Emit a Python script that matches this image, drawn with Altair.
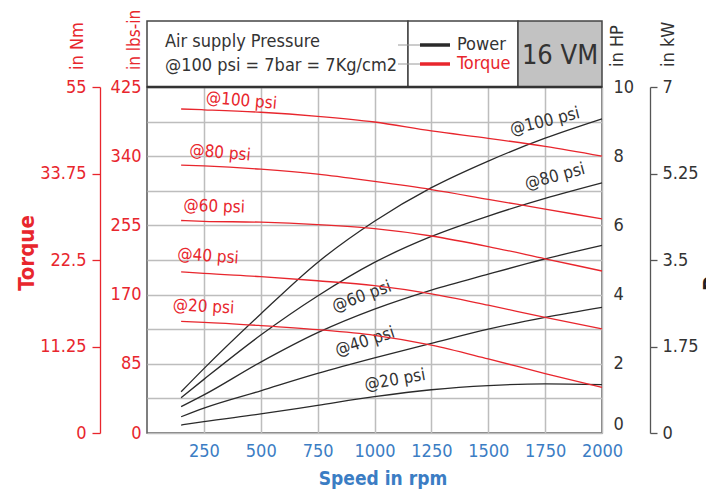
import altair as alt
import pandas as pd

# Speed points (rpm) shared by every curve
rpm = [150, 250, 500, 750, 1000, 1250, 1500, 1750, 2000]

# Output power in HP at each supply pressure
power_100 = [1.19, 1.86, 3.44, 4.93, 6.12, 7.09, 7.86, 8.52, 9.08]
power_80 = [1.02, 1.55, 2.83, 3.96, 4.93, 5.68, 6.27, 6.78, 7.23]
power_60 = [0.76, 1.10, 2.05, 2.90, 3.58, 4.13, 4.59, 5.03, 5.42]
power_40 = [0.47, 0.72, 1.22, 1.72, 2.17, 2.59, 3.00, 3.34, 3.63]
power_20 = [0.23, 0.33, 0.55, 0.80, 1.05, 1.25, 1.37, 1.42, 1.40]

# Torque in lbs-in at each supply pressure
torque_100 = [398, 397, 394, 389, 382, 371, 362, 352, 340]
torque_80 = [329, 328, 324, 318, 309, 299, 287, 275, 263]
torque_60 = [261, 260, 259, 256, 251, 242, 229, 214, 199]
torque_40 = [198, 196, 192, 187, 181, 171, 157, 142, 128]
torque_20 = [137, 136, 132, 127, 120, 108, 91, 73, 56]

pressures = ["@100 psi", "@80 psi", "@60 psi", "@40 psi", "@20 psi"]
power_series = [power_100, power_80, power_60, power_40, power_20]
torque_series = [torque_100, torque_80, torque_60, torque_40, torque_20]

# Curve labels: (rpm, value, angle)
torque_label_rpm = [415, 321, 295, 268, 248]
torque_label_val = [408, 344, 278, 217, 155]
torque_label_ang = [5, 5, 2, 4, 3]
power_label_rpm = [1749, 1793, 944, 958, 1090]
power_label_val = [9.0, 7.41, 3.94, 2.64, 1.53]
power_label_ang = [346, 345, 340, 342, 350]

x_ticks = [250, 500, 750, 1000, 1250, 1500, 1750, 2000]
lbs_ticks = [0, 85, 170, 255, 340, 425]
hp_ticks = list(range(0, 11))
nm_ticks = [0, 11.25, 22.5, 33.75, 45]
kw_ticks = [0, 1.75, 3.5, 5.25, 7]

FONT = "Liberation Sans Narrow, Arial Narrow, DejaVu Sans Condensed, sans-serif"
RED = "#e8262d"
DARK = "#2a2a2a"
TXT = "#333333"
BLUE = "#3b7dc4"
GRID = "#bdbdbd"
W, H = 455, 346
TICK_FS = 18

power_df = pd.DataFrame(
    [{"rpm": r, "hp": v, "p": p} for p, s in zip(pressures, power_series) for r, v in zip(rpm, s)]
)
torque_df = pd.DataFrame(
    [{"rpm": r, "lbs": v, "p": p} for p, s in zip(pressures, torque_series) for r, v in zip(rpm, s)]
)
tlab_df = pd.DataFrame({"rpm": torque_label_rpm, "lbs": torque_label_val,
                        "ang": torque_label_ang, "txt": pressures})
plab_df = pd.DataFrame({"rpm": power_label_rpm, "hp": power_label_val,
                        "ang": power_label_ang, "txt": pressures})

x_scale = alt.Scale(domain=[0, 2000], nice=False, zero=False)
x_axis = alt.Axis(values=x_ticks, format="d", grid=True, gridColor=GRID, gridWidth=1.5, ticks=False,
                  domain=False, labelColor=BLUE, labelFontSize=TICK_FS, labelPadding=9,
                  labelOverlap=False, labelFlush=False, labelFont=FONT, title=None)
x_enc = alt.X("rpm:Q", scale=x_scale, axis=x_axis)

lbs_scale = alt.Scale(domain=[0, 425], nice=False)
lbs_axis = alt.Axis(orient="left", values=lbs_ticks, grid=False, ticks=False, domain=False,
                    labelColor=RED, labelFontSize=TICK_FS, labelPadding=6, labelFont=FONT, title=None)
hp_scale = alt.Scale(domain=[0, 10], nice=False)
hp_axis = alt.Axis(orient="right", values=hp_ticks, grid=True, gridColor=GRID, gridWidth=1.5,
                   ticks=False, domain=False, labelColor=TXT, labelFontSize=TICK_FS, labelPadding=11,
                   labelFont=FONT, labelExpr="datum.value % 2 == 0 ? datum.label : ''",
                   labelBaseline={"condition": {"test": "datum.value == 0", "value": "bottom"},
                                  "value": "middle"},
                   title=None)

# Torque curves and their labels on the lbs-in scale (left)
torque_lines = alt.Chart(torque_df).mark_line(color=RED, strokeWidth=1.3, interpolate="monotone").encode(
    x=x_enc,
    y=alt.Y("lbs:Q", scale=lbs_scale, axis=lbs_axis),
    detail="p:N",
)
torque_text = alt.Chart(tlab_df).mark_text(color=RED, fontSize=17, font=FONT, align="center",
                                           baseline="middle").encode(
    x=x_enc,
    y=alt.Y("lbs:Q", scale=lbs_scale, axis=lbs_axis),
    text="txt:N",
    angle=alt.Angle("ang:Q", scale=None),
)
torque_layer = alt.layer(torque_lines, torque_text)

# Power curves and their labels on the HP scale (right)
power_lines = alt.Chart(power_df).mark_line(color=DARK, strokeWidth=1.3, interpolate="monotone").encode(
    x=x_enc,
    y=alt.Y("hp:Q", scale=hp_scale, axis=hp_axis),
    detail="p:N",
)
power_text = alt.Chart(plab_df).mark_text(color=TXT, fontSize=17, font=FONT, align="center",
                                          baseline="middle").encode(
    x=x_enc,
    y=alt.Y("hp:Q", scale=hp_scale, axis=hp_axis),
    text="txt:N",
    angle=alt.Angle("ang:Q", scale=None),
)
power_layer = alt.layer(power_lines, power_text)

# Secondary unit axes: Nm on the far left, kW on the far right
nm_axis = alt.Chart(pd.DataFrame({"nm": [0, 45]})).mark_point(opacity=0).encode(
    y=alt.Y("nm:Q", scale=alt.Scale(domain=[0, 45], nice=False),
            axis=alt.Axis(orient="left", offset=47, values=nm_ticks, grid=False, domainColor=RED,
                          domainWidth=1.3, tickColor=RED, tickSize=8, tickWidth=1.3, labelColor=RED,
                          labelFontSize=TICK_FS, labelPadding=6, labelFont=FONT,
                          labelExpr="datum.value == 45 ? '55' : format(datum.value, '~g')", title=None)),
)
kw_axis = alt.Chart(pd.DataFrame({"kw": [0, 7]})).mark_point(opacity=0).encode(
    y=alt.Y("kw:Q", scale=alt.Scale(domain=[0, 7], nice=False),
            axis=alt.Axis(orient="right", offset=48, values=kw_ticks, grid=False, domainColor="#555555",
                          domainWidth=1.3, tickColor="#555555", tickSize=7, tickWidth=1.3,
                          labelColor=TXT, labelFontSize=TICK_FS, labelPadding=5, labelFont=FONT,
                          labelExpr="format(datum.value, '~g')", title=None)),
)

one = pd.DataFrame({"k": [0]})


# Header panel above the plot
def box(x0, x1, fill, stroke_w=1.5):
    return alt.Chart(one).mark_rect(fill=fill, stroke="#444444", strokeWidth=stroke_w).encode(
        x=alt.value(x0), x2=alt.value(x1), y=alt.value(-66), y2=alt.value(0))


header_main = box(0, 261, "white")
header_legend = box(261, 371, "white")
header_model = box(371, W, "#c2c2c2")
header_base = alt.Chart(one).mark_rule(color="#333333", strokeWidth=2.5).encode(
    x=alt.value(0), x2=alt.value(W), y=alt.value(0))


def hline(x0, x1, y, color, w):
    return alt.Chart(one).mark_rule(color=color, strokeWidth=w).encode(
        x=alt.value(x0), x2=alt.value(x1), y=alt.value(y))


legend_marks = [
    hline(251, 273, -42, "#9a9a9a", 1),
    hline(251, 273, -23, "#9a9a9a", 1),
    hline(273, 303, -42, DARK, 3.5),
    hline(273, 303, -23, RED, 3.5),
]


def label(txt, x, y, color=TXT, size=18, align="left", baseline="alphabetic", angle=0, bold=False):
    kw = dict(text=txt, color=color, fontSize=size, font=FONT, align=align, baseline=baseline,
              fontWeight="bold" if bold else "normal")
    if angle:
        kw["angle"] = angle
    return alt.Chart(one).mark_text(**kw).encode(x=alt.value(x), y=alt.value(y))


texts = [
    label("Air supply Pressure", 18, -40),
    label("@100 psi = 7bar = 7Kg/cm2", 18, -16),
    label("Power", 310, -37),
    label("Torque", 310, -18, color=RED),
    label("16 VM", 413, -23, size=27, align="center"),
    label("in Nm", -69, -17, color=RED, size=18, baseline="middle", angle=270),
    label("in lbs-in", -12, -17, color=RED, size=17, baseline="middle", angle=270),
    label("in HP", 471, -20, size=18, baseline="middle", angle=270),
    label("in kW", 522, -20, size=18, baseline="middle", angle=270),
    label("Torque", -120, 166, color=RED, size=22, align="center", baseline="middle", angle=270, bold=True),
    label("Power", 555, 204, color="#222222", size=22, baseline="top", angle=270, bold=True),
    label("Speed in rpm", 236, 398, color=BLUE, size=19, align="center", bold=True),
]

chart = alt.layer(
    power_layer, torque_layer, nm_axis, kw_axis,
    header_main, header_legend, header_model, header_base,
    *legend_marks, *texts,
).resolve_scale(y="independent").properties(
    width=W, height=H,
    padding={"left": 147, "top": 87, "right": 104, "bottom": 58},
    autosize=alt.AutoSizeParams(type="none"),
).configure_view(stroke="#555555", strokeWidth=1.5)

chart.save("out.html", embed_options={"renderer": "svg", "actions": False})
